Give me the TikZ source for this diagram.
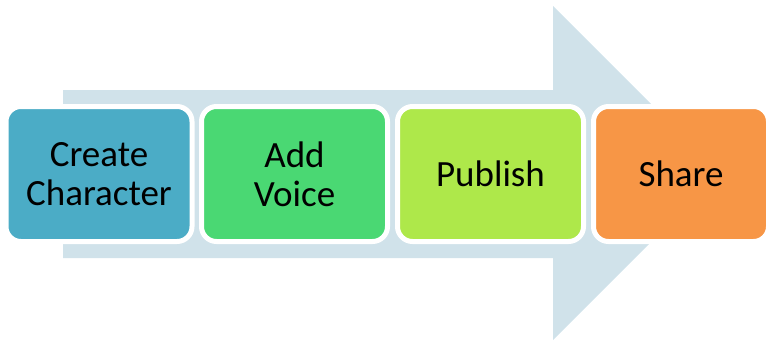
\documentclass[tikz,border=0pt]{standalone}
\usepackage{fontspec}
\setmainfont{Carlito}
\usetikzlibrary{positioning}
\definecolor{arrowgray}{HTML}{D0E2EA}
\definecolor{stepblue}{HTML}{4BACC6}
\definecolor{stepgreen}{HTML}{4AD873}
\definecolor{steplime}{HTML}{AEE84A}
\definecolor{steporange}{HTML}{F79646}
\tikzset{
	stepbox/.style={draw=white, line width=5pt, rounded corners=15pt,
		minimum width=186pt, minimum height=135pt, align=center,
		font=\fontsize{37}{39}\selectfont, text=black, inner sep=0pt}
}

\begin{document}
\begin{tikzpicture}[x=1pt, y=-1pt]
			%%%%% START %%%%%
			\useasboundingbox (0, 0) rectangle (767, 341);
			
			% big arrow behind the steps
			\fill[arrowgray] (63, 90) -- (553, 90) -- (553, 6) -- (720, 173)
				-- (553, 340) -- (553, 258) -- (63, 258) -- cycle;
			
			% steps
			\node[stepbox, fill=stepblue] (create) at (99, 174) {Create\\Character};
			\node[stepbox, fill=stepgreen] (voice) at (294.5, 174) {Add\\Voice};
			\node[stepbox, fill=steplime] (publish) at (490.5, 174) {Publish};
			\node[stepbox, fill=steporange, minimum width=175pt] (share) at (681, 174) {Share};
			
			%%%%% END %%%%%
\end{tikzpicture}
\end{document}
